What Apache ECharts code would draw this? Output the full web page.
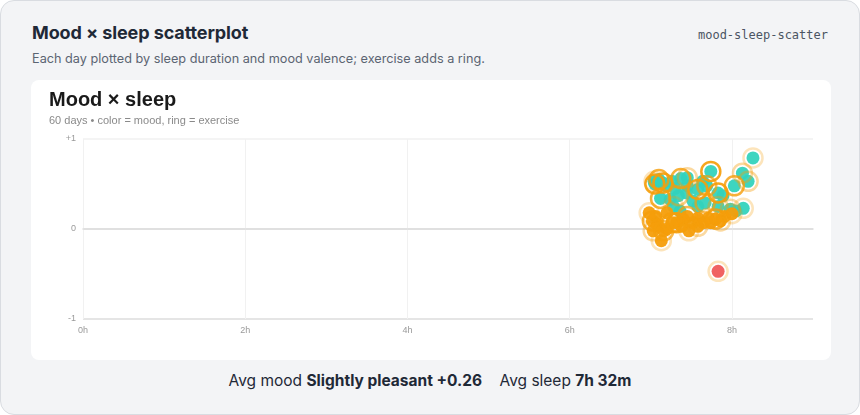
<!DOCTYPE html>
<html>
<head>
<meta charset="utf-8">
<script src="https://cdn.jsdelivr.net/npm/echarts@6/dist/echarts.min.js"></script>
<style>
  html, body { margin: 0; padding: 0; width: 860px; height: 415px; background: #ffffff; overflow: hidden; }
  .card { position: absolute; left: 0; top: 0; width: 858px; height: 413px; background: #f3f4f6; border: 1px solid #d9dce1; border-radius: 14px; font-family: Inter, "Noto Sans", sans-serif; }
  .h1 { position: absolute; left: 31px; top: 21px; font-size: 18px; font-weight: 700; color: #1f2937; letter-spacing: -0.1px; }
  .sub { position: absolute; left: 31px; top: 50px; font-size: 12.7px; color: #5b6472; }
  .code { position: absolute; right: 31px; top: 27px; font-family: "DejaVu Sans Mono", "Liberation Mono", monospace; font-size: 12px; color: #4b5563; }
  .panel { position: absolute; left: 30px; top: 79px; width: 800px; height: 280px; background: #ffffff; border-radius: 8px; }
  #chart { position: absolute; left: 0; top: 0; width: 800px; height: 280px; }
  .foot { position: absolute; left: 0; width: 858px; top: 370px; text-align: center; font-size: 15.5px; color: #1f2937; }
  .foot b { font-weight: 700; }
</style>
</head>
<body>
<div class="card">
  <div class="h1">Mood × sleep scatterplot</div>
  <div class="sub">Each day plotted by sleep duration and mood valence; exercise adds a ring.</div>
  <div class="code">mood-sleep-scatter</div>
  <div class="panel"><div id="chart"></div></div>
  <div class="foot">Avg mood <b>Slightly pleasant +0.26</b>&nbsp;&nbsp;&nbsp;&nbsp;Avg sleep <b>7h 32m</b></div>
</div>
<script>
// Sleep duration (hours) per day
const sleepHours = [
  8.26, 8.13, 8.03, 7.74, 7.83, 7.64, 7.45, 7.37, 7.26, 7.15,
  7.05, 7.04, 7.19, 7.12, 7.24, 7.34, 7.44, 7.58, 7.52, 7.36,
  7.67, 7.98, 8.05, 7.89, 7.10, 7.45, 7.69, 7.28, 7.58, 7.83,
  8.14, 8.20, 7.30,
  7.02, 7.09, 7.03, 7.13, 7.32, 7.38, 7.45, 7.58, 7.71, 7.80,
  7.91, 7.20, 7.58, 7.06, 7.52, 7.26, 6.98, 7.16, 7.47, 7.74,
  7.86, 7.65, 7.08, 7.40, 8.00, 7.20,
  7.83
];
// Mood valence (-1 .. +1) per day
const moodValence = [
  0.79, 0.62, 0.48, 0.64, 0.40, 0.53, 0.57, 0.56, 0.53, 0.51,
  0.50, 0.53, 0.48, 0.34, 0.33, 0.37, 0.40, 0.44, 0.31, 0.20,
  0.29, 0.22, 0.20, 0.37, 0.55, 0.48, 0.48, 0.25, 0.25, 0.25,
  0.23, 0.53, 0.45,
  0.09, 0.03, -0.02, -0.13, 0.07, 0.03, 0.14, 0.12, 0.12, 0.11,
  0.14, 0.18, 0.03, 0.14, 0.07, 0.07, 0.18, -0.02, -0.02, 0.07,
  0.09, 0.07, 0.05, 0.11, 0.17, 0.00,
  -0.47
];
// Exercise minutes per day (0 = no exercise, no ring)
const exerciseMin = [
  20, 25, 45, 55, 50, 0, 25, 45, 0, 50,
  55, 20, 0, 45, 0, 30, 0, 50, 0, 0,
  40, 25, 0, 0, 45, 0, 40, 20, 0, 25,
  20, 25, 0,
  45, 0, 25, 20, 50, 0, 40, 0, 25, 45,
  0, 0, 25, 0, 0, 45, 20, 40, 20, 0,
  25, 0, 0, 0, 20, 0,
  20
];
const xTicks = [0, 2, 4, 6, 8];
const yTicks = [-1, 0, 1];

function moodColor(v) {
  if (v >= 0.2) return '#34d3bd';
  if (v > -0.3) return '#f59e0b';
  return '#ef5a5a';
}

const dots = sleepHours.map((h, i) => ({
  value: [h, moodValence[i]],
  itemStyle: { color: moodColor(moodValence[i]) }
}));
const rings = [];
sleepHours.forEach((h, i) => {
  const m = exerciseMin[i];
  if (m > 0) {
    const op = Math.min(0.92, 0.28 + 0.64 * (m - 20) / 30);
    rings.push({ value: [h, moodValence[i]], itemStyle: { opacity: op } });
  }
});

const FONT = '"Liberation Sans", Arial, Helvetica, sans-serif';
const chart = echarts.init(document.getElementById('chart'), null, { renderer: 'canvas' });
chart.setOption({
  animation: false,
  title: {
    text: 'Mood × sleep',
    subtext: '60 days • color = mood, ring = exercise',
    left: 13, top: 5,
    itemGap: 5,
    textStyle: { fontFamily: FONT, fontSize: 20, fontWeight: 700, color: '#1a1a1a' },
    subtextStyle: { fontFamily: FONT, fontSize: 11, color: '#8a8a8a' }
  },
  grid: { left: 52, right: 18, top: 59, bottom: 41, containLabel: false },
  xAxis: {
    type: 'value', min: 0, max: 9, interval: 2,
    axisLine: { show: true, lineStyle: { color: '#dddddd', width: 1.5 } },
    axisTick: { show: false },
    axisLabel: {
      color: '#9a9a9a', fontSize: 9, margin: 7, fontFamily: FONT,
      formatter: v => xTicks.indexOf(v) >= 0 ? v + 'h' : '',
      showMaxLabel: false
    },
    splitLine: { show: true, lineStyle: { color: ['#f1f1f1', '#f1f1f1', '#f1f1f1', '#f1f1f1', '#f1f1f1', 'rgba(0,0,0,0)'], width: 1 } }
  },
  yAxis: {
    type: 'value', min: -1, max: 1, interval: 1,
    axisLine: { show: false },
    axisTick: { show: false },
    axisLabel: {
      color: '#9a9a9a', fontSize: 9, margin: 7, fontFamily: FONT,
      formatter: v => yTicks.indexOf(v) >= 0 ? (v > 0 ? '+' + v : String(v)) : ''
    },
    splitLine: { show: true, lineStyle: { color: ['#dddddd', '#e0e0e0', '#f1f1f1'], width: 1.5 } }
  },
  series: [
    {
      type: 'scatter', data: dots, symbol: 'circle', symbolSize: 13,
      itemStyle: { opacity: 0.95 }, z: 2, silent: true
    },
    {
      type: 'scatter', data: rings, symbol: 'circle', symbolSize: 19,
      itemStyle: { color: 'rgba(0,0,0,0)', borderColor: '#f59e0b', borderWidth: 2.5 },
      z: 3, silent: true
    }
  ]
});
</script>
</body>
</html>
